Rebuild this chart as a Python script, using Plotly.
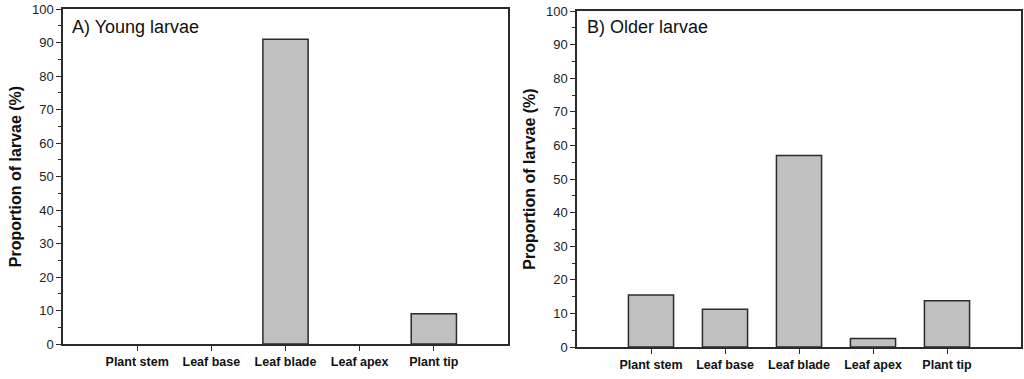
import plotly.graph_objects as go

categories = ["Plant stem", "Leaf base", "Leaf blade", "Leaf apex", "Plant tip"]
young_larvae = [0, 0, 91, 0, 9]
older_larvae = [15.5, 11.2, 57, 2.5, 13.8]
y_ticks = [0, 10, 20, 30, 40, 50, 60, 70, 80, 90, 100]
panel_titles = ["A) Young larvae", "B) Older larvae"]
y_title = "Proportion of larvae (%)"

W, H = 1024, 379
FONT = "Liberation Sans, Arial, sans-serif"
AX_COL = "#2b2b2b"


def px_x(p):
    return p / W


def px_y(p):
    return 1 - p / H


def hide_zero(vals):
    return [v if v > 0 else None for v in vals]


fig = go.Figure()
fig.add_trace(go.Bar(x=categories, y=hide_zero(young_larvae), width=0.61,
                     marker=dict(color="#c0c0c0", line=dict(color="#2b2b2b", width=1.5)),
                     xaxis="x", yaxis="y", showlegend=False))
fig.add_trace(go.Bar(x=categories, y=hide_zero(older_larvae), width=0.61,
                     marker=dict(color="#c0c0c0", line=dict(color="#2b2b2b", width=1.5)),
                     xaxis="x2", yaxis="y2", showlegend=False))


def xax(domain, anchor):
    return dict(domain=domain, anchor=anchor, type="category", range=[-1, 5],
                automargin=False,
                showline=True, mirror=True, linecolor=AX_COL, linewidth=1.5,
                ticks="outside", ticklen=5, tickwidth=1, tickcolor=AX_COL,
                showgrid=False, zeroline=False,
                tickfont=dict(family=FONT, size=12.5, color="#111"),
                tickprefix="<b>", ticksuffix="</b>",
                categoryorder="array", categoryarray=categories)


def yax(domain, anchor):
    return dict(domain=domain, anchor=anchor, range=[0, 100],
                automargin=False,
                tickvals=y_ticks, ticktext=[str(v) for v in y_ticks],
                showline=True, mirror=True, linecolor=AX_COL, linewidth=1.5,
                ticks="outside", ticklen=5, tickwidth=1, tickcolor=AX_COL,
                minor=dict(ticks="outside", dtick=5, ticklen=3, tickwidth=1,
                           tickcolor=AX_COL, showgrid=False),
                showgrid=False, zeroline=False,
                tickfont=dict(family=FONT, size=13, color="#222"),
                title=dict(text="<b>" + y_title + "</b>", standoff=6,
                           font=dict(family=FONT, size=16, color="#111")))


fig.update_layout(
    width=W, height=H,
    margin=dict(l=0, r=0, t=0, b=0, autoexpand=False),
    plot_bgcolor="white", paper_bgcolor="white",
    xaxis=xax([px_x(63), px_x(508)], "y"),
    yaxis=yax([px_y(344), px_y(9)], "x"),
    xaxis2=xax([px_x(577), px_x(1021)], "y2"),
    yaxis2=yax([px_y(347), px_y(11)], "x2"),
)

fig.add_annotation(text=panel_titles[0], xref="paper", yref="paper",
                   x=px_x(70), y=px_y(27), xanchor="left", yanchor="middle",
                   showarrow=False, font=dict(family=FONT, size=18, color="#111"))
fig.add_annotation(text=panel_titles[1], xref="paper", yref="paper",
                   x=px_x(585), y=px_y(27), xanchor="left", yanchor="middle",
                   showarrow=False, font=dict(family=FONT, size=18, color="#111"))

fig.write_html("out.html",
               config={"displayModeBar": False},
               post_script="document.body.style.margin='0';"
                           "document.body.style.overflow='hidden';")
